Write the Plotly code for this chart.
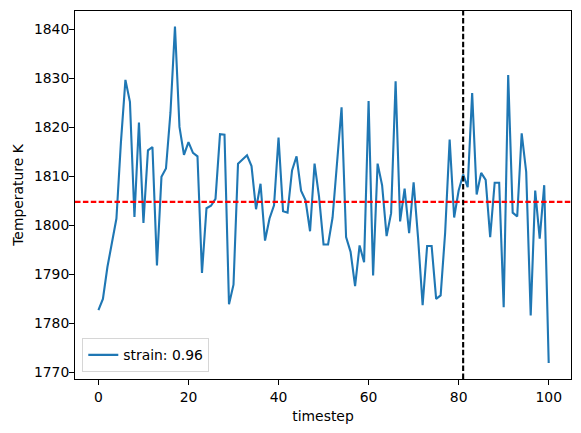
import plotly.graph_objects as go

timestep = list(range(101))
temperature = [
    1782.7, 1785.0, 1791.5, 1796.6, 1801.4, 1817.0, 1829.7, 1825.2, 1801.7, 1821.0,
    1800.5, 1815.3, 1816.0, 1791.8, 1809.9, 1811.6, 1823.0, 1840.6, 1820.1, 1814.4,
    1817.0, 1814.8, 1814.1, 1790.3, 1803.5, 1804.0, 1805.4, 1818.6, 1818.5, 1783.9,
    1787.9, 1812.6, 1813.4, 1814.3, 1812.1, 1803.3, 1808.5, 1796.9, 1801.4, 1804.1,
    1817.9, 1802.9, 1802.6, 1811.2, 1814.1, 1807.1, 1805.1, 1798.8, 1812.6, 1805.8,
    1796.1, 1796.1, 1801.6, 1813.0, 1824.1, 1797.6, 1794.6, 1787.6, 1795.9, 1792.5,
    1825.4, 1789.8, 1812.6, 1808.2, 1797.8, 1802.5, 1829.4, 1800.8, 1807.5, 1798.4,
    1808.8, 1797.3, 1783.7, 1795.8, 1795.8, 1785.0, 1785.7, 1798.5, 1817.5, 1801.6,
    1807.1, 1810.4, 1807.8, 1827.0, 1806.3, 1810.7, 1809.3, 1797.6, 1808.7, 1808.7,
    1783.3, 1830.7, 1802.6, 1801.8, 1818.8, 1810.9, 1781.6, 1807.1, 1797.3, 1808.2,
    1771.9,
]
mean_temperature = 1804.8
marker_timestep = 81
series_label = "strain: 0.96"
x_ticks = [0, 20, 40, 60, 80, 100]
y_ticks = [1770, 1780, 1790, 1800, 1810, 1820, 1830, 1840]

FONT = "DejaVu Sans"
fig = go.Figure()
fig.add_trace(go.Scatter(
    x=timestep, y=temperature, mode="lines", name=series_label,
    line=dict(color="#1f77b4", width=2.1),
))
fig.add_shape(type="line", xref="paper", yref="y", x0=0, x1=1,
              y0=mean_temperature, y1=mean_temperature,
              line=dict(color="#ff0000", width=2.1, dash="5.5px,2.4px"), layer="above")
fig.add_shape(type="line", xref="x", yref="paper", x0=marker_timestep, x1=marker_timestep,
              y0=0, y1=1,
              line=dict(color="#000000", width=2.1, dash="5.5px,2.4px"), layer="above")

axis_common = dict(
    showline=True, mirror=True, linecolor="black", linewidth=1.1,
    ticks="outside", ticklen=4.9, tickwidth=1.1, tickcolor="black",
    showgrid=False, zeroline=False, automargin=False,
    tickfont=dict(family=FONT, size=13.9, color="black"),
)
fig.update_layout(
    width=581, height=433,
    margin=dict(l=75, r=10, t=11, b=54),
    paper_bgcolor="white", plot_bgcolor="white",
    font=dict(family=FONT, size=13.9, color="black"),
    xaxis=dict(range=[-5.2, 104.95], tickvals=x_ticks,
               title=dict(text="timestep", font=dict(family=FONT, size=13.9), standoff=7),
               **axis_common),
    yaxis=dict(range=[1768.65, 1843.75], tickvals=y_ticks, ticklabelstandoff=-3,
               title=dict(text="Temperature K", font=dict(family=FONT, size=13.9), standoff=7),
               **axis_common),
    showlegend=True,
    legend=dict(x=0.0147, y=0.018, xanchor="left", yanchor="bottom", itemwidth=30,
                bgcolor="rgba(255,255,255,0.8)", bordercolor="#d6d6d6", borderwidth=1,
                font=dict(family=FONT, size=13.9, color="black")),
)
fig.write_html("out.html", config={"displayModeBar": False},
               post_script="document.body.style.margin='0';")
